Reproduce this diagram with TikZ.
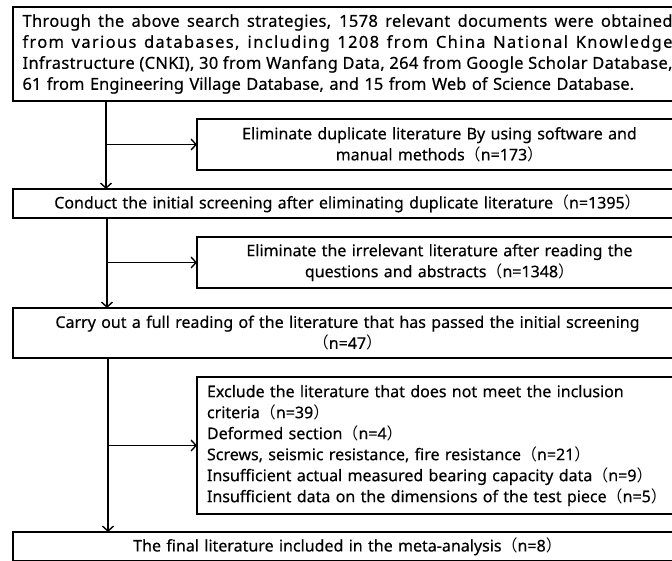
\documentclass[tikz,border=0pt]{standalone}
\usepackage{fontspec}
\setmainfont{Noto Sans}[FakeBold=0.4]
\newfontfamily\cjkf{Noto Sans CJK SC}
\usetikzlibrary{arrows.meta}
\newcommand{\LP}{{\cjkf （}}
\newcommand{\RP}{{\cjkf ）}}
\newcommand{\jline}[2]{\makebox[650pt][s]{\spaceskip=0pt\relax\xspaceskip=0pt\relax\addfontfeature{LetterSpace=#1}#2}}
\begin{document}
\begin{tikzpicture}[x=1pt,y=-1pt,
  font=\fontsize{16}{21}\selectfont,
  box/.style={draw, line width=1.4pt, anchor=north west, inner sep=0pt, outer sep=0pt, minimum width=485pt},
  wide/.style={box, minimum width=669pt},
  arr/.style={line width=1.4pt, -{Straight Barb[length=5pt,width=11pt]}}]
\useasboundingbox (0,0) rectangle (672,560);
\clip (0,0) rectangle (672,560);
\node[wide, minimum height=94pt, text width=650pt, align=left, font=\fontsize{16.5}{21}\selectfont] (b1) at (13,7)
 {\jline{2}{Through the above search strategies, 1578 relevant documents were obtained}\\
  \jline{8}{from various databases, including 1208 from China National Knowledge}\\
  \jline{2}{Infrastructure (CNKI), 30 from Wanfang Data, 264 from Google Scholar Database,}\\
  61 from Engineering Village Database, and 15 from Web of Science Database.};
\node[box, minimum height=51pt, text width=475pt, align=center] (b2) at (197,119)
 {Eliminate duplicate literature By using software and\\ manual methods\LP n=173\RP};
\node[wide, minimum height=29pt, text width=660pt, align=center] (b3) at (13,189)
 {Conduct the initial screening after eliminating duplicate literature\LP n=1395\RP};
\node[box, minimum height=51pt, text width=475pt, align=center] (b4) at (197,237)
 {Eliminate the irrelevant literature after reading the\\ questions and abstracts\LP n=1348\RP};
\node[wide, minimum height=50pt, text width=660pt, align=center] (b5) at (13,308)
 {Carry out a full reading of the literature that has passed the initial screening\\ \LP n=47\RP};
\node[box, minimum height=137pt, text width=465pt, align=left] (b6) at (197,377)
 {Exclude the literature that does not meet the inclusion\\
  criteria\LP n=39\RP\\
  Deformed section\LP n=4\RP\\
  Screws, seismic resistance, fire resistance\LP n=21\RP\\
  Insufficient actual measured bearing capacity data\LP n=9\RP\\
  Insufficient data on the dimensions of the test piece\LP n=5\RP};
\node[wide, minimum height=29pt, text width=660pt, align=center] (b7) at (13,532)
 {The final literature included in the meta-analysis\LP n=8\RP};
\coordinate (s1) at (106,144.5);
\coordinate (s2) at (107,262.5);
\coordinate (s3) at (108,445.5);
\draw[arr] (b1.south -| s1) -- (b3.north -| s1);
\draw[arr] (s1) -- (b2.west);
\draw[arr] (b3.south -| s2) -- (b5.north -| s2);
\draw[arr] (s2) -- (b4.west);
\draw[arr] (b5.south -| s3) -- (b7.north -| s3);
\draw[arr] (s3) -- (b6.west);
\end{tikzpicture}
\end{document}
